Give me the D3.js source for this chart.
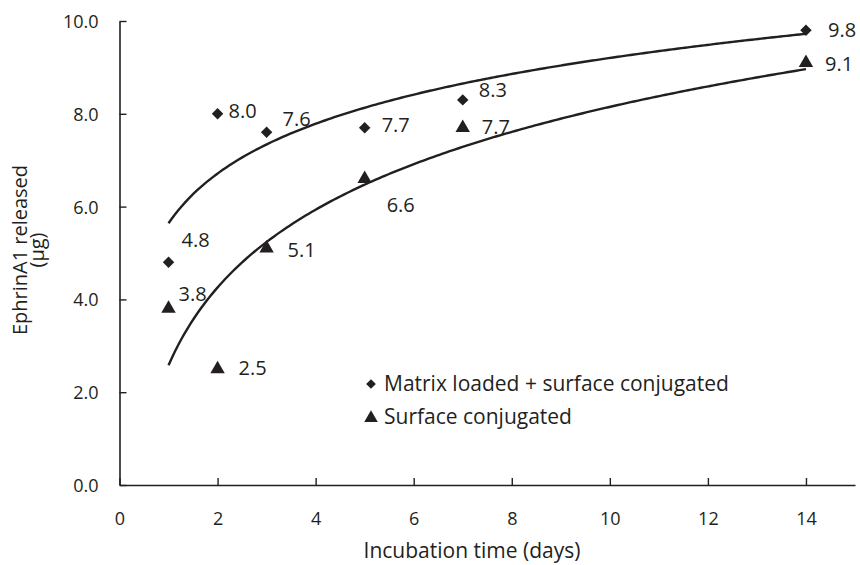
<!DOCTYPE html>
<html>
<head>
<meta charset="utf-8">
<script src="https://cdn.jsdelivr.net/npm/d3@7"></script>
<style>
  html, body { margin: 0; padding: 0; background: #fff; }
  svg text { font-family: "Open Sans", "Noto Sans", sans-serif; fill: #231f20; }
</style>
</head>
<body>
<svg id="chart" width="860" height="565"></svg>
<script>
// ---- data ----
const days = [1, 2, 3, 5, 7, 14];
const matrixLoaded = [4.8, 8.0, 7.6, 7.7, 8.3, 9.8];
const surfaceOnly = [3.8, 2.5, 5.1, 6.6, 7.7, 9.1];
const seriesNames = ["Matrix loaded + surface conjugated", "Surface conjugated"];
const xTicks = [0, 2, 4, 6, 8, 10, 12, 14];
const yTicks = [0, 2, 4, 6, 8, 10];
const xTitle = "Incubation time (days)";
const yTitleLines = ["EphrinA1 released", "(\u00b5g)"];

// label placement (dx, dy relative to marker centre)
const matrixLabelOffsets = [[13, -15], [11, 4], [16, -6], [17, 4], [16, -3], [22, 7]];
const surfaceLabelOffsets = [[10, -8], [21, 6], [21, 9], [22, 33], [19, 6], [19, 8]];

const ink = "#231f20";
const svg = d3.select("#chart");

const x = d3.scaleLinear().domain([0, 15]).range([119.5, 855]);
const y = d3.scaleLinear().domain([0, 10]).range([485, 21]);

// axes
const xAxis = d3.axisBottom(x).tickValues(xTicks).tickSizeInner(-7).tickSizeOuter(0).tickPadding(0).tickFormat(d3.format("d"));
const gx = svg.append("g").attr("transform", `translate(0,${y(0)})`).call(xAxis);
gx.select(".domain").attr("stroke", ink).attr("stroke-width", 1.6);
gx.selectAll(".tick line").attr("stroke", ink).attr("stroke-width", 1.4);
gx.selectAll(".tick text").attr("font-size", 18).attr("dy", null).attr("y", 40).style("font-family", '"Open Sans", sans-serif').attr("fill", ink);

const yAxis = d3.axisLeft(y).tickValues(yTicks).tickSizeInner(-7).tickSizeOuter(0).tickPadding(0).tickFormat(d3.format(".1f"));
const gy = svg.append("g").attr("transform", `translate(${x(0)},0)`).call(yAxis);
gy.select(".domain").attr("stroke", ink).attr("stroke-width", 1.6);
gy.selectAll(".tick line").attr("stroke", ink).attr("stroke-width", 1.4);
gy.selectAll(".tick text").attr("font-size", 18).attr("x", -21).attr("dy", "0.36em").style("font-family", '"Open Sans", sans-serif').attr("fill", ink);

// titles
svg.append("text").attr("x", 472).attr("y", 558).attr("text-anchor", "middle").attr("font-size", 21).text(xTitle);
const yt = svg.append("text").attr("transform", "translate(27,250) rotate(-90)").attr("text-anchor", "middle").attr("font-size", 20);
yt.append("tspan").attr("x", 0).attr("y", 0).text(yTitleLines[0]);
yt.append("tspan").attr("x", 0).attr("y", 17).text(yTitleLines[1]);

// logarithmic trend lines (least squares y = a + b ln x)
function logFit(xs, ys) {
  const lx = xs.map(Math.log);
  const mx = d3.mean(lx), my = d3.mean(ys);
  let sxy = 0, sxx = 0;
  lx.forEach((v, i) => { sxy += (v - mx) * (ys[i] - my); sxx += (v - mx) * (v - mx); });
  const b = sxy / sxx;
  return { a: my - b * mx, b };
}
const line = d3.line().x(d => x(d[0])).y(d => y(d[1]));
const xmin = d3.min(days), xmax = d3.max(days);
[matrixLoaded, surfaceOnly].forEach(vals => {
  const f = logFit(days, vals);
  const pts = d3.range(0, 201).map(i => {
    const t = xmin + (xmax - xmin) * i / 200;
    return [t, f.a + f.b * Math.log(t)];
  });
  svg.append("path").attr("d", line(pts)).attr("fill", "none").attr("stroke", ink).attr("stroke-width", 2.4);
});

// markers
const diamond = d3.symbol().type(d3.symbolDiamond2).size(84);
const triangle = d3.symbol().type(d3.symbolTriangle).size(90);
const fmt = d3.format(".1f");

const gm = svg.append("g");
days.forEach((d, i) => {
  const px = x(d), py = y(matrixLoaded[i]);
  gm.append("path").attr("d", diamond()).attr("transform", `translate(${px},${py})`).attr("fill", ink);
  gm.append("text").attr("x", px + matrixLabelOffsets[i][0]).attr("y", py + matrixLabelOffsets[i][1]).attr("font-size", 20).text(fmt(matrixLoaded[i]));
});
const gs = svg.append("g");
days.forEach((d, i) => {
  const px = x(d), py = y(surfaceOnly[i]);
  gs.append("path").attr("d", triangle()).attr("transform", `translate(${px},${py})`).attr("fill", ink);
  gs.append("text").attr("x", px + surfaceLabelOffsets[i][0]).attr("y", py + surfaceLabelOffsets[i][1]).attr("font-size", 20).text(fmt(surfaceOnly[i]));
});

// legend
const lg = svg.append("g").attr("transform", "translate(371,384)");
lg.append("path").attr("d", d3.symbol().type(d3.symbolDiamond2).size(60)()).attr("fill", ink);
lg.append("text").attr("x", 13).attr("y", 7).attr("font-size", 21).text(seriesNames[0]);
lg.append("path").attr("d", d3.symbol().type(d3.symbolTriangle).size(80)()).attr("transform", "translate(0,34)").attr("fill", ink);
lg.append("text").attr("x", 13).attr("y", 40).attr("font-size", 21).text(seriesNames[1]);
</script>
</body>
</html>
